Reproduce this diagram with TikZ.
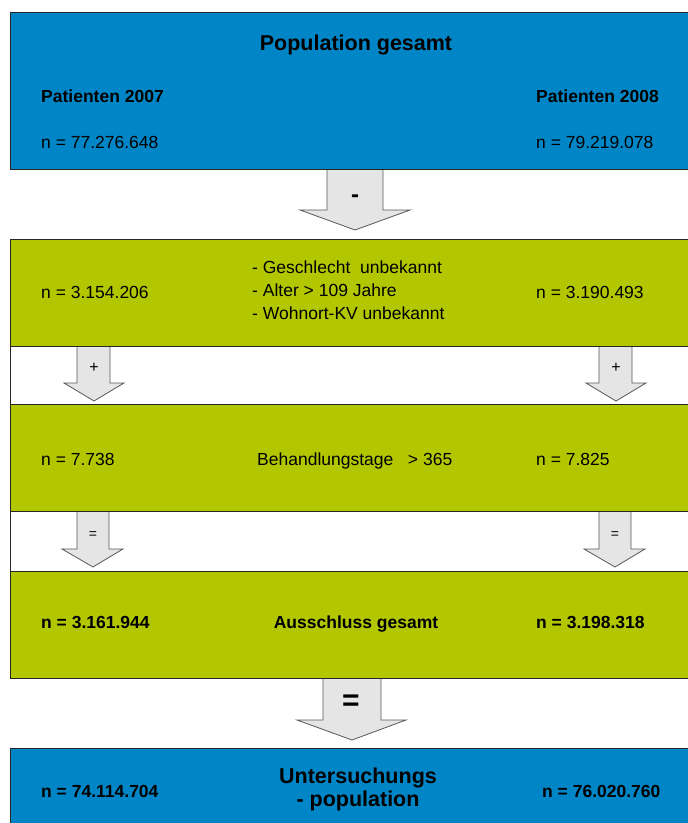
\documentclass[tikz,border=0pt]{standalone}
\usepackage{fontspec}
\setmainfont{Liberation Sans}
\usetikzlibrary{positioning}
\definecolor{popblue}{RGB}{0,134,198}
\definecolor{exgreen}{RGB}{179,199,0}
\definecolor{arrowgray}{RGB}{229,229,229}
\tikzset{box/.style={draw=black!85, line width=0.9pt, anchor=north west, minimum width=700pt, inner sep=0pt}}
\tikzset{bluebox/.style={box, fill=popblue}}
\tikzset{greenbox/.style={box, fill=exgreen}}
\tikzset{blockarrow/.style={draw=black!65, fill=arrowgray, line width=0.8pt}}
\tikzset{txt/.style={anchor=base west, inner sep=0pt, font=\fontsize{17.5}{21}\selectfont}}
\tikzset{btxt/.style={txt, font=\fontsize{17.5}{21}\selectfont\bfseries}}
\tikzset{headline/.style={anchor=base, inner sep=0pt, font=\fontsize{21.5}{24}\selectfont\bfseries}}

\begin{document}
\begin{tikzpicture}[x=1pt, y=-1pt]
    \useasboundingbox (0,0) rectangle (688,823);
    % boxes
    \node[box, fill=white, minimum height=439pt] (frame) at (10,239) {};
    \node[bluebox, minimum height=157pt] (pop) at (10,12) {};
    \node[greenbox, minimum height=107pt] (ex1) at (10,239) {};
    \node[greenbox, minimum height=107pt] (ex2) at (10,404) {};
    \node[greenbox, minimum height=107pt] (ex3) at (10,571) {};
    \node[bluebox, minimum height=90pt] (unt) at (10,748) {};
    % block arrows
    \draw[blockarrow] (327,170) -- (327,210) -- (300,210) -- (355,230) -- (410,210) -- (383,210) -- (383,170);
    \draw[blockarrow] (77,347) -- (77,383) -- (64,383) -- (94,401) -- (124,383) -- (110,383) -- (110,347);
    \draw[blockarrow] (599,347) -- (599,383) -- (586,383) -- (616,401) -- (646,383) -- (632,383) -- (632,347);
    \draw[blockarrow] (77,512) -- (77,549) -- (62,549) -- (93,567) -- (123,549) -- (109,549) -- (109,512);
    \draw[blockarrow] (599,512) -- (599,549) -- (584,549) -- (615,567) -- (645,549) -- (631,549) -- (631,512);
    \draw[blockarrow] (323,679) -- (323,720) -- (297,720) -- (352,740) -- (406,720) -- (381,720) -- (381,679);
    \node[font=\fontsize{24}{26}\selectfont\bfseries] (minus) at (355,199) {-};
    \node[font=\fontsize{16}{18}\selectfont] (plusL) at (94,368) {+};
    \node[font=\fontsize{16}{18}\selectfont] (plusR) at (616,368) {+};
    \node[font=\fontsize{14}{16}\selectfont] (eqL) at (93,535) {=};
    \node[font=\fontsize{14}{16}\selectfont] (eqR) at (615,535) {=};
    \node[font=\fontsize{30}{32}\selectfont\bfseries] (eq) at (351,703) {=};
    % texts
    \node[headline] (poptitle) at (356,50) {Population gesamt};
    \node[btxt] (pat07) at (41,102) {Patienten 2007};
    \node[btxt] (pat08) at (536,102) {Patienten 2008};
    \node[txt] (n07) at (41,148) {n = 77.276.648};
    \node[txt] (n08) at (536,148) {n = 79.219.078};
    \node[txt] (ex07) at (41,298) {n = 3.154.206};
    \node[txt] (ex08) at (536,298) {n = 3.190.493};
    \node[txt] (crit1) at (252,273) {- Geschlecht\ \ unbekannt};
    \node[txt] (crit2) at (252,296) {- Alter > 109 Jahre};
    \node[txt] (crit3) at (252,319) {- Wohnort-KV unbekannt};
    \node[txt] (bt07) at (41,465) {n = 7.738};
    \node[txt] (bt08) at (536,465) {n = 7.825};
    \node[txt] (bt) at (257,465) {Behandlungstage\ \ \ > 365};
    \node[btxt] (sum07) at (41,628) {n = 3.161.944};
    \node[btxt] (sum08) at (536,628) {n = 3.198.318};
    \node[btxt, anchor=base] (sum) at (356,628) {Ausschluss gesamt};
    \node[btxt] (up07) at (41,797) {n = 74.114.704};
    \node[btxt] (up08) at (542,797) {n = 76.020.760};
    \node[headline] (untA) at (358,783) {Untersuchungs};
    \node[headline] (untB) at (358,806) {- population};
\end{tikzpicture}
\end{document}
